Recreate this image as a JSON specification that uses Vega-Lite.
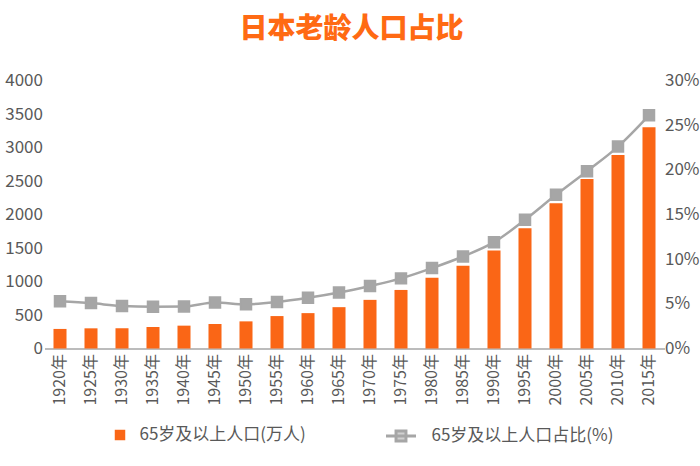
{
  "$schema": "https://vega.github.io/schema/vega-lite/v6.json",
  "autosize": {"type": "none"},
  "width": 620,
  "height": 268,
  "padding": {"left": 44.5, "top": 80.5, "right": 35.5, "bottom": 117.5},
  "background": "white",
  "title": {
    "text": "日本老龄人口占比",
    "font": "Noto Sans CJK SC",
    "fontSize": 28,
    "fontWeight": 900,
    "color": "#FF6A13",
    "anchor": "middle",
    "dx": -3,
    "offset": 28
  },
  "data": {
    "values": [
      {"year": "1920年", "pop": 292, "ratio": 5.3},
      {"year": "1925年", "pop": 301, "ratio": 5.08},
      {"year": "1930年", "pop": 301, "ratio": 4.75},
      {"year": "1935年", "pop": 321, "ratio": 4.67},
      {"year": "1940年", "pop": 341, "ratio": 4.7},
      {"year": "1945年", "pop": 366, "ratio": 5.15},
      {"year": "1950年", "pop": 405, "ratio": 4.95},
      {"year": "1955年", "pop": 484, "ratio": 5.2},
      {"year": "1960年", "pop": 528, "ratio": 5.67},
      {"year": "1965年", "pop": 617, "ratio": 6.26},
      {"year": "1970年", "pop": 726, "ratio": 7.0},
      {"year": "1975年", "pop": 874, "ratio": 7.85},
      {"year": "1980年", "pop": 1057, "ratio": 9.0},
      {"year": "1985年", "pop": 1235, "ratio": 10.3},
      {"year": "1990年", "pop": 1462, "ratio": 11.9},
      {"year": "1995年", "pop": 1793, "ratio": 14.4},
      {"year": "2000年", "pop": 2168, "ratio": 17.2},
      {"year": "2005年", "pop": 2528, "ratio": 19.85},
      {"year": "2010年", "pop": 2889, "ratio": 22.6},
      {"year": "2015年", "pop": 3304, "ratio": 26.1}
    ]
  },
  "encoding": {
    "x": {
      "field": "year",
      "type": "ordinal",
      "sort": null,
      "title": null,
      "scale": {"paddingInner": 0.58, "paddingOuter": 0.29},
      "axis": {
        "labelAngle": -90,
        "labelAlign": "right",
        "labelBaseline": "middle",
        "labelFont": "Noto Sans CJK SC",
        "labelFontSize": 16,
        "labelColor": "#595959",
        "labelPadding": 5,
        "ticks": false,
        "domainColor": "#A6A6A6",
        "domainWidth": 1.5
      }
    }
  },
  "layer": [
    {
      "mark": {"type": "bar", "color": "#FA6616"},
      "encoding": {
        "y": {
          "field": "pop",
          "type": "quantitative",
          "title": null,
          "scale": {"domain": [0, 4000]},
          "axis": {
            "values": [0, 500, 1000, 1500, 2000, 2500, 3000, 3500, 4000],
            "format": "d",
            "grid": false,
            "domain": false,
            "ticks": false,
            "labelFont": "Noto Sans CJK SC",
            "labelFontSize": 17,
            "labelColor": "#595959",
            "labelPadding": 2,
            "labelAlign": "right"
          }
        },
        "fill": {
          "datum": "65岁及以上人口(万人)",
          "scale": {"range": ["#FA6616"]},
          "legend": {
            "orient": "none",
            "legendX": 67,
            "legendY": 346,
            "title": null,
            "symbolType": "square",
            "symbolSize": 110,
            "labelFont": "Noto Sans CJK SC",
            "labelFontSize": 17,
            "labelColor": "#595959",
            "labelOffset": 11,
            "labelLimit": 400
          }
        }
      }
    },
    {
      "mark": {
        "type": "line",
        "color": "#A6A6A6",
        "strokeWidth": 2.5,
        "interpolate": "monotone",
        "point": {"shape": "square", "size": 110, "filled": true, "color": "#A6A6A6", "opacity": 1}
      },
      "encoding": {
        "y": {
          "field": "ratio",
          "type": "quantitative",
          "title": null,
          "scale": {"domain": [0, 30]},
          "axis": {
            "orient": "right",
            "values": [0, 5, 10, 15, 20, 25, 30],
            "labelExpr": "datum.value + '%'",
            "grid": false,
            "domain": false,
            "ticks": false,
            "labelFont": "Noto Sans CJK SC",
            "labelFontSize": 17,
            "labelColor": "#595959",
            "labelPadding": 0
          }
        },
        "stroke": {
          "datum": "65岁及以上人口占比(%)",
          "scale": {"range": ["#A6A6A6"]},
          "legend": {
            "orient": "none",
            "legendX": 340,
            "legendY": 339,
            "title": null,
            "symbolType": "M-1,0L1,0M-0.33,-0.33L0.33,-0.33L0.33,0.33L-0.33,0.33Z",
            "symbolSize": 900,
            "symbolStrokeWidth": 3,
            "labelFont": "Noto Sans CJK SC",
            "labelFontSize": 17,
            "labelColor": "#595959",
            "labelOffset": 14,
            "labelLimit": 400,
            "encode": {
              "symbols": {
                "update": {
                  "stroke": {"value": "#D0D0D0"},
                  "fill": {"value": "#D0D0D0"}
                }
              }
            }
          }
        }
      }
    }
  ],
  "resolve": {"scale": {"y": "independent", "fill": "independent", "stroke": "independent"}},
  "config": {"view": {"stroke": null}}
}
